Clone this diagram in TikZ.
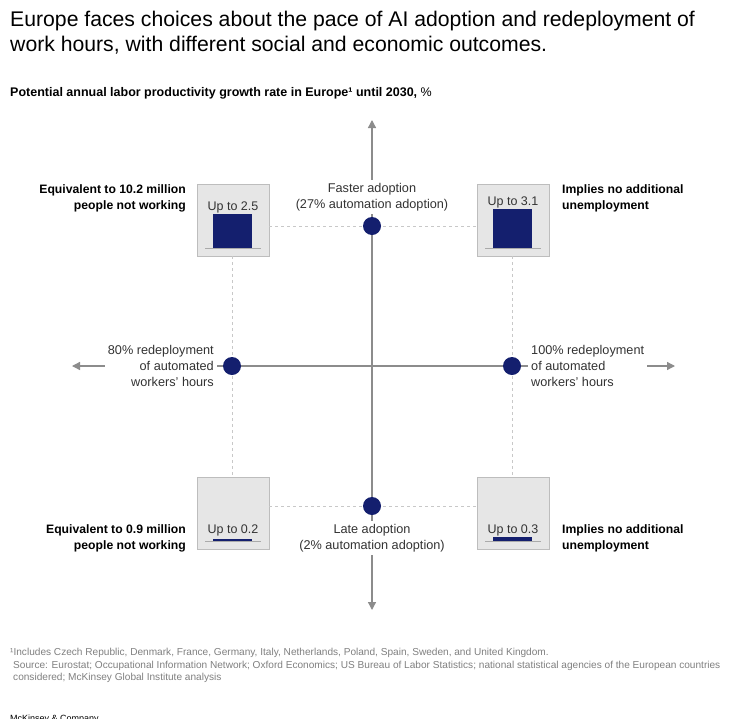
\documentclass[tikz,border=0pt]{standalone}
\usepackage{fontspec}
\setmainfont{Liberation Sans}
\usetikzlibrary{arrows.meta}
\definecolor{navy}{HTML}{141F6E}
\definecolor{boxfill}{HTML}{E6E6E6}
\definecolor{boxline}{HTML}{BDBDBD}
\definecolor{axisgrey}{HTML}{8C8C8C}
\definecolor{guidegrey}{HTML}{C8C8C8}
\definecolor{footgrey}{HTML}{808080}
\definecolor{txtgrey}{HTML}{333333}
\begin{document}
\begin{tikzpicture}[x=1pt,y=-1pt,
  dotnode/.style={circle,fill=navy,inner sep=0pt,minimum size=18pt},
  qbox/.style={draw=boxline,fill=boxfill,minimum size=72pt,inner sep=0pt,line width=0.8pt},
  axisline/.style={draw=axisgrey,line width=1.3pt},
  axarrow/.style={axisline,-{Triangle[length=8pt,width=8pt]}},
  guide/.style={draw=guidegrey,line width=0.8pt,dash pattern=on 3pt off 3pt},
  lbl/.style={font=\fontsize{12.7}{15.8}\selectfont,text=txtgrey,inner sep=3pt},
  vallbl/.style={font=\fontsize{12.5}{14}\selectfont,text=txtgrey,inner sep=0pt,anchor=base},
  blbl/.style={font=\bfseries\fontsize{12.2}{16}\selectfont,inner sep=0pt},
  barbase/.style={draw=boxline!90!black,line width=0.8pt},
  footlbl/.style={font=\fontsize{10.1}{12.5}\selectfont,text=footgrey,inner sep=0pt,anchor=base west}]
\useasboundingbox[fill=white] (0,0) rectangle (731,718);

% title
\node[anchor=base west,inner sep=0pt,font=\fontsize{21.2}{24}\selectfont] (t1) at (10,26) {Europe faces choices about the pace of AI adoption and redeployment of};
\node[anchor=base west,inner sep=0pt,font=\fontsize{21.2}{24}\selectfont] (t2) at (10,51) {work hours, with different social and economic outcomes.};
\node[anchor=base west,inner sep=0pt,font=\bfseries\fontsize{12.5}{16}\selectfont] (sub) at (10,96) {Potential annual labor productivity growth rate in Europe¹ until 2030, \mdseries\%};

% boxes
\node[qbox] (bTL) at (233,220) {};
\node[qbox] (bTR) at (513,220) {};
\node[qbox] (bBL) at (233,513) {};
\node[qbox] (bBR) at (513,513) {};

% dots (positions)
\coordinate (pT) at (372,226);
\coordinate (pL) at (232,366);
\coordinate (pR) at (512,366);
\coordinate (pB) at (372,506);

% dashed guides
\draw[guide] (bTL.east |- pT) -- (bTR.west |- pT);
\draw[guide] (bBL.east |- pB) -- (bBR.west |- pB);
\draw[guide] (bTL.south -| pL) -- (bBL.north -| pL);
\draw[guide] (bTR.south -| pR) -- (bBR.north -| pR);

% axis labels
\node[lbl,align=center] (fast) at (372,197) {Faster adoption\\(27\% automation adoption)};
\node[lbl,align=center] (late) at (372,538) {Late adoption\\(2\% automation adoption)};
\node[lbl,align=right,anchor=east] (left) at (217,366) {80\% redeployment\\of automated\\workers’ hours};
\node[lbl,align=left,anchor=west] (right) at (528,366) {100\% redeployment\\of automated\\workers’ hours};
\coordinate (tipT) at (372,120);
\coordinate (tipB) at (372,610);
\coordinate (tipL) at (72,366);
\coordinate (tipR) at (675,366);

% axes
\draw[axarrow] (fast.north) -- (tipT);
\draw[axisline] (fast.south) -- (pT);
\draw[axisline] (pT) -- (pB);
\draw[axisline] (pB) -- (late.north);
\draw[axarrow] (late.south) -- (tipB);
\draw[axisline] (left.east) -- (pL);
\draw[axisline] (pL) -- (pR);
\draw[axisline] (pR) -- (right.west);
\draw[axarrow] (left.west) -- (tipL);
\draw[axarrow] (right.east) -- (tipR);

% dots
\node[dotnode] (dT) at (pT) {};
\node[dotnode] (dL) at (pL) {};
\node[dotnode] (dR) at (pR) {};
\node[dotnode] (dB) at (pB) {};

% bars
\fill[navy] (213,214) rectangle (252,248);
\draw[barbase] (205,248) -- (261,248);
\fill[navy] (493,209) rectangle (532,248);
\draw[barbase] (485,248) -- (541,248);
\fill[navy] (213,538.5) rectangle (252,541);
\draw[barbase] (205,541) -- (261,541);
\fill[navy] (493,537) rectangle (532,541);
\draw[barbase] (485,541) -- (541,541);

% value labels
\node[vallbl] (vTL) at (233,210) {Up to 2.5};
\node[vallbl] (vTR) at (513,205) {Up to 3.1};
\node[vallbl] (vBL) at (233,533) {Up to 0.2};
\node[vallbl] (vBR) at (513,533) {Up to 0.3};

% bold side labels
\node[blbl,align=right,anchor=east] (sTL) at (186,198) {Equivalent to 10.2 million\\people not working};
\node[blbl,align=left,anchor=west] (sTR) at (562,198) {Implies no additional\\unemployment};
\node[blbl,align=right,anchor=east] (sBL) at (186,538) {Equivalent to 0.9 million\\people not working};
\node[blbl,align=left,anchor=west] (sBR) at (562,538) {Implies no additional\\unemployment};

% footnotes
\node[footlbl] (f1) at (10,655) {¹Includes Czech Republic, Denmark, France, Germany, Italy, Netherlands, Poland, Spain, Sweden, and United Kingdom.};
\node[footlbl] (f2) at (13,668) {Source: Eurostat; Occupational Information Network; Oxford Economics; US Bureau of Labor Statistics; national statistical agencies of the European countries};
\node[footlbl] (f3) at (13,680) {considered; McKinsey Global Institute analysis};
\node[anchor=base west,inner sep=0pt,font=\fontsize{9}{11}\selectfont] (mck) at (10,721) {McKinsey \& Company};
\end{tikzpicture}
\end{document}
